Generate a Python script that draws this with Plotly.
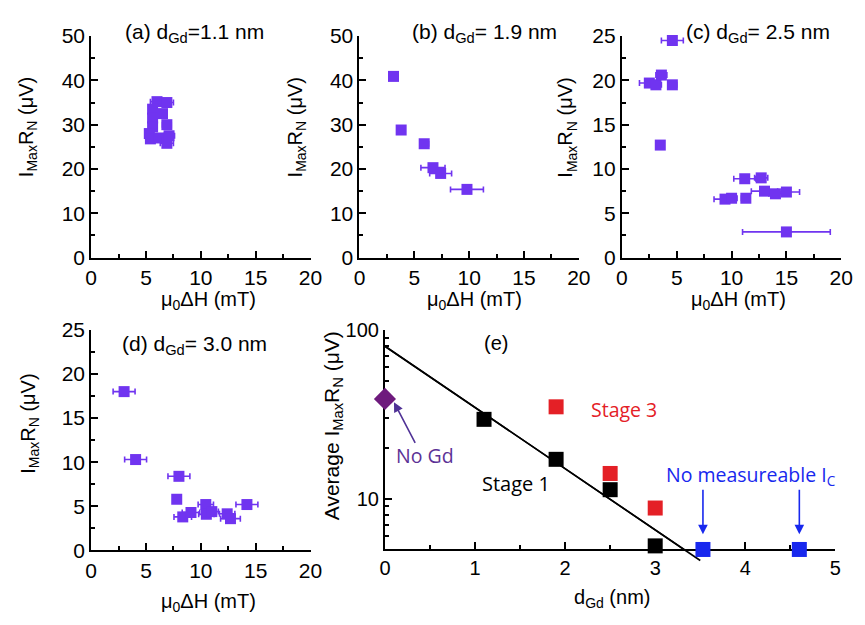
import plotly.graph_objects as go
import math

W, H = 865, 625

# ---------------- data ----------------
a_x = [6.0, 6.9, 5.6, 5.6, 5.6, 6.5, 6.9, 5.3, 5.4, 6.2, 6.9, 7.1]
a_y = [35.2, 35.0, 33.5, 31.5, 29.5, 32.5, 30.0, 28.0, 26.8, 27.0, 25.8, 27.5]
a_err = [0.6, 0.6, 0.3, 0.3, 0.3, 0.4, 0.4, 0.4, 0.3, 0.4, 0.6, 0.5]

b_x = [3.1, 3.8, 5.9, 6.7, 7.4, 9.8]
b_y = [40.9, 28.8, 25.7, 20.3, 19.0, 15.4]
b_err = [0.3, 0.3, 0.4, 1.1, 1.0, 1.5]

c_x = [4.6, 2.5, 3.1, 3.6, 4.6, 3.5, 11.2, 12.7, 9.4, 10.0, 11.3, 13.0, 14.0, 15.0, 15.0]
c_y = [24.5, 19.7, 19.5, 20.6, 19.5, 12.7, 8.9, 9.0, 6.6, 6.7, 6.7, 7.5, 7.2, 7.4, 2.9]
c_err = [1.0, 0.9, 0.5, 0.5, 0.4, 0.3, 1.0, 0.6, 1.0, 0.5, 0.4, 1.2, 0.6, 1.2, 4.0]

d_x = [3.0, 4.05, 8.0, 7.8, 8.35, 9.1, 10.45, 10.5, 11.0, 12.4, 12.7, 14.2]
d_y = [18.0, 10.3, 8.4, 5.8, 3.8, 4.3, 5.2, 4.1, 4.4, 4.15, 3.6, 5.2]
d_err = [1.0, 1.0, 1.0, 0.3, 0.8, 0.8, 0.7, 0.7, 0.6, 0.7, 0.9, 1.0]

nogd_x = [0.0]
nogd_y = [39.0]
stage1_x = [1.1, 1.9, 2.5, 3.0]
stage1_y = [29.5, 17.1, 11.3, 5.25]
stage3_x = [1.9, 2.5, 3.0]
stage3_y = [35.0, 14.1, 8.8]
noic_x = [3.53, 4.6]
noic_y = [5.0, 5.0]
fit_x = [0.0, 3.5]
fit_y = [80.0, 4.3]

PANEL_TITLES = ["(a) d<sub>Gd</sub>=1.1 nm", "(b) d<sub>Gd</sub>= 1.9 nm",
                "(c) d<sub>Gd</sub>= 2.5 nm", "(d) d<sub>Gd</sub>= 3.0 nm", "(e)"]

# ---------------- styling ----------------
VIOLET = "rgb(112,52,240)"
PURPLE = "rgb(110,26,125)"
NOGD_TXT = "rgb(92,50,150)"
RED = "rgb(228,32,38)"
BLUE = "rgb(24,40,238)"
ARIAL = "Liberation Sans, Arial, sans-serif"
MYRIAD = "Open Sans, Lato, sans-serif"

def px_x(p):
    return p / W

def px_y(p):
    return 1 - p / H

def dom_x(l, r):
    return [px_x(l), px_x(r)]

def dom_y(b, t):
    return [px_y(b), px_y(t)]

fig = go.Figure()

panels = [
    (a_x, a_y, a_err, "x", "y"),
    (b_x, b_y, b_err, "x2", "y2"),
    (c_x, c_y, c_err, "x3", "y3"),
    (d_x, d_y, d_err, "x4", "y4"),
]
for xs, ys, errs, xa, ya in panels:
    fig.add_trace(go.Scatter(
        x=xs, y=ys, mode="markers", xaxis=xa, yaxis=ya,
        marker=dict(symbol="square", size=11, color=VIOLET, line=dict(width=0)),
        error_x=dict(type="data", array=errs, visible=True, color=VIOLET,
                     thickness=1.6, width=3),
        cliponaxis=False, showlegend=False))

# panel (e): fit line on an overlay axis pair that extends a bit below the panel
fig.add_trace(go.Scatter(x=fit_x, y=fit_y, mode="lines", xaxis="x5", yaxis="y5",
                         line=dict(color="black", width=1.6), showlegend=False))
fig.add_trace(go.Scatter(x=fit_x, y=fit_y, mode="lines", xaxis="x6", yaxis="y6",
                         line=dict(color="black", width=1.6), showlegend=False))
for xs, ys, sym, sz, col in [
    (stage3_x, stage3_y, "square", 15, RED),
    (stage1_x, stage1_y, "square", 15, "black"),
    (noic_x, noic_y, "square", 15, BLUE),
    (nogd_x, nogd_y, "diamond", 17, PURPLE),
]:
    fig.add_trace(go.Scatter(x=xs, y=ys, mode="markers", xaxis="x6", yaxis="y6",
                             marker=dict(symbol=sym, size=sz, color=col, line=dict(width=0)),
                             cliponaxis=False, showlegend=False))

def lin_axis(domain, rng, dtick, mdtick, anchor, tfs=21):
    return dict(domain=domain, range=rng, anchor=anchor, showline=True, linecolor="black",
                linewidth=2, ticks="inside", ticklen=7, tickwidth=2, tickcolor="black",
                dtick=dtick, tick0=0, showgrid=False, zeroline=False,
                tickfont=dict(family=ARIAL, size=tfs, color="black"),
                minor=dict(ticks="inside", ticklen=4, tickwidth=1.5, tickcolor="black",
                           dtick=mdtick, tick0=0, showgrid=False),
                layer="below traces")

top_y = dom_y(255, 25)
bot_y = dom_y(559, 330)
e_y = dom_y(558, 330)
lay = dict(
    xaxis=lin_axis(dom_x(87, 311), [0, 20], 5, 2.5, "y"),
    yaxis=lin_axis(top_y, [0, 50], 10, 5, "x"),
    xaxis2=lin_axis(dom_x(361, 585), [0, 20], 5, 2.5, "y2"),
    yaxis2=lin_axis(top_y, [0, 50], 10, 5, "x2"),
    xaxis3=lin_axis(dom_x(629, 853), [0, 20], 5, 2.5, "y3"),
    yaxis3=lin_axis(top_y, [0, 25], 5, 2.5, "x3"),
    xaxis4=lin_axis(dom_x(87, 311), [0, 20], 5, 2.5, "y4"),
    yaxis4=lin_axis(bot_y, [0, 25], 5, 2.5, "x4"),
    xaxis5=lin_axis(dom_x(387, 847), [0, 5], 1, 0.5, "y5", tfs=20),
)
e_lo = math.log10(5)
lay["yaxis5"] = dict(domain=e_y, type="log", range=[e_lo, 2], anchor="x5", showline=True,
                     linecolor="black", linewidth=2, ticks="inside", ticklen=7, tickwidth=2,
                     tickcolor="black", tickvals=[10, 100], ticktext=["10", "100"],
                     showgrid=False, zeroline=False,
                     tickfont=dict(family=ARIAL, size=20, color="black"),
                     minor=dict(ticks="inside", ticklen=4, tickwidth=1.5, tickcolor="black",
                                tickvals=[5, 6, 7, 8, 9, 20, 30, 40, 50, 60, 70, 80, 90],
                                showgrid=False),
                     layer="below traces")
ext = 0.035
dec_per_frac = (2 - e_lo) / (e_y[1] - e_y[0])
lay["xaxis6"] = dict(domain=dom_x(387, 847), range=[0, 5], anchor="y6", visible=False)
lay["yaxis6"] = dict(domain=[e_y[0] - ext, e_y[1]], type="log",
                     range=[e_lo - ext * dec_per_frac, 2], anchor="x6", visible=False)
fig.update_layout(**lay)

ann = []
def txt(x, y, s, size=20, color="black", family=ARIAL, **kw):
    ann.append(dict(x=px_x(x), y=px_y(y), xref="paper", yref="paper", text=s, showarrow=False,
                    font=dict(family=family, size=size, color=color),
                    xanchor="center", yanchor="middle", **kw))

# panel titles
txt(192, 22, PANEL_TITLES[0], size=21)
txt(489, 22, PANEL_TITLES[1], size=21)
txt(768, 22, PANEL_TITLES[2], size=21)
txt(193, 346, PANEL_TITLES[3], size=21)
txt(500, 344, PANEL_TITLES[4], size=20)

xt = "μ<sub>0</sub>ΔH (mT)"
yt = "I<sub>Max</sub>R<sub>N</sub> (μV)"
txt(207, 300, xt)
txt(478, 300, xt)
txt(748, 300, xt)
txt(207, 613, xt)
txt(22, 120, yt, textangle=-90)
txt(297, 120, yt, textangle=-90)
txt(573, 120, yt, textangle=-90)
txt(24, 428, yt, textangle=-90)
txt(334, 430, "Average I<sub>Max</sub>R<sub>N</sub> (μV)", size=21, textangle=-90)
txt(619, 609, "d<sub>Gd</sub> (nm)")

# panel (e) labels
txt(428, 460, "No Gd", size=19.5, color=NOGD_TXT, family=MYRIAD)
txt(521, 490, "Stage 1", size=20, color="black", family=MYRIAD)
txt(631, 413, "Stage 3", size=19.5, color=RED, family=MYRIAD)
txt(761, 481, "No measureable I<sub>C</sub>", size=19.5, color=BLUE, family=MYRIAD)

# arrows
ann.append(dict(x=nogd_x[0] + 0.1, y=math.log10(nogd_y[0]) - 0.02, xref="x5", yref="y5",
                ax=22, ay=42, text="", showarrow=True, arrowhead=2, arrowsize=1.2,
                arrowwidth=1.6, arrowcolor="rgb(80,50,150)"))
for xv in noic_x:
    ann.append(dict(x=xv, y=math.log10(noic_y[0]) + 0.09, xref="x5", yref="y5",
                    ax=0, ay=-46, text="", showarrow=True, arrowhead=2, arrowsize=1.2,
                    arrowwidth=1.6, arrowcolor=BLUE))

fig.update_layout(annotations=ann, width=W, height=H,
                  margin=dict(l=0, r=0, t=0, b=0),
                  paper_bgcolor="white", plot_bgcolor="rgba(0,0,0,0)", showlegend=False)

fig.write_html("out.html")
